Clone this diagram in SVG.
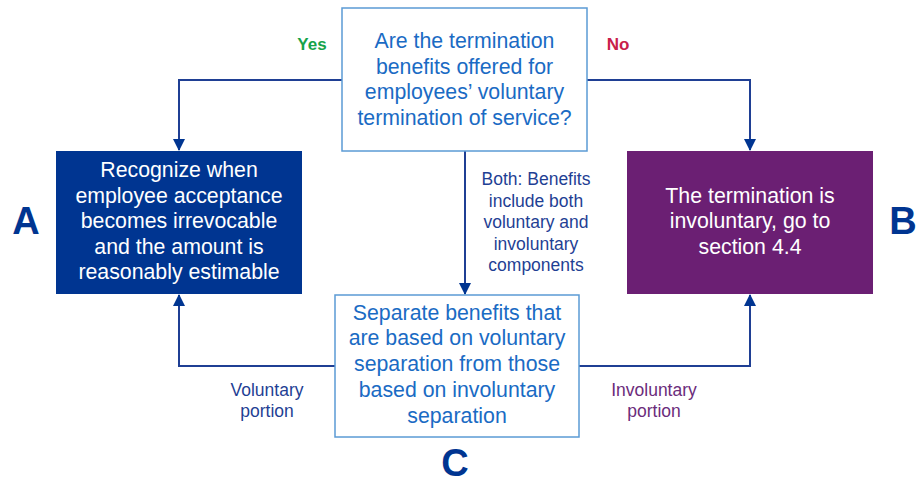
<svg xmlns="http://www.w3.org/2000/svg" width="916" height="483" viewBox="0 0 916 483">
<style>
text{font-family:"Liberation Sans",Arial,sans-serif;text-anchor:middle}
.box{font-size:21.3px;fill:#1a6bc4}
.wt{font-size:21.3px;fill:#ffffff}
.lbl{font-size:17.5px;fill:#1f3f94}
.big{font-size:38px;font-weight:bold;fill:#003591}
.ln{fill:none;stroke:#1f3f94;stroke-width:2}
</style>
<defs>
<marker id="ah" markerWidth="12" markerHeight="12" viewBox="0 0 12 12" refX="11" refY="6" orient="auto" markerUnits="userSpaceOnUse">
<path d="M0,0 L12,6 L0,12 z" fill="#003591"/>
</marker>
</defs>
<g id="connectors">
<path class="ln" d="M342,80 H179 V150" marker-end="url(#ah)"/>
<path class="ln" d="M587,80 H750 V150" marker-end="url(#ah)"/>
<path class="ln" d="M465,151 V294" marker-end="url(#ah)"/>
<path class="ln" d="M335,366 H179 V295" marker-end="url(#ah)"/>
<path class="ln" d="M579,366 H750 V295" marker-end="url(#ah)"/>
<text x="312" y="50" style="font-size:17px;font-weight:bold;fill:#16a34a">Yes</text>
<text x="618" y="50" style="font-size:17px;font-weight:bold;fill:#c8204a">No</text>
<text class="lbl" x="536" y="185">Both: Benefits</text>
<text class="lbl" x="536" y="207">include both</text>
<text class="lbl" x="536" y="228">voluntary and</text>
<text class="lbl" x="536" y="250">involuntary</text>
<text class="lbl" x="536" y="271">components</text>
<text class="lbl" x="267" y="396">Voluntary</text>
<text class="lbl" x="267" y="417">portion</text>
<text class="lbl" x="654" y="396" style="fill:#6b2c7b">Involuntary</text>
<text class="lbl" x="654" y="417" style="fill:#6b2c7b">portion</text>
</g>
<g id="question">
<rect x="342" y="8" width="245" height="143" fill="#ffffff" stroke="#5b9bd5" stroke-width="1.5"/>
<text class="box" x="464.5" y="48">Are the termination</text>
<text class="box" x="464.5" y="74">benefits offered for</text>
<text class="box" x="464.5" y="99">employees’ voluntary</text>
<text class="box" x="464.5" y="125">termination of service?</text>
</g>
<g id="nodeA">
<rect x="56" y="151" width="246" height="143" fill="#003591"/>
<text class="wt" x="179" y="177">Recognize when</text>
<text class="wt" x="179" y="203">employee acceptance</text>
<text class="wt" x="179" y="228">becomes irrevocable</text>
<text class="wt" x="179" y="254">and the amount is</text>
<text class="wt" x="179" y="279">reasonably estimable</text>
<text class="big" x="26" y="234">A</text>
</g>
<g id="nodeB">
<rect x="627" y="151" width="246" height="143" fill="#6b1f73"/>
<text class="wt" x="750" y="203">The termination is</text>
<text class="wt" x="750" y="228">involuntary, go to</text>
<text class="wt" x="750" y="254">section 4.4</text>
<text class="big" x="903" y="234">B</text>
</g>
<g id="nodeC">
<rect x="335" y="295" width="244" height="142" fill="#ffffff" stroke="#5b9bd5" stroke-width="1.5"/>
<text class="box" x="457" y="320">Separate benefits that</text>
<text class="box" x="457" y="345">are based on voluntary</text>
<text class="box" x="457" y="371">separation from those</text>
<text class="box" x="457" y="397">based on involuntary</text>
<text class="box" x="457" y="423">separation</text>
<text class="big" x="455" y="476">C</text>
</g>
</svg>
